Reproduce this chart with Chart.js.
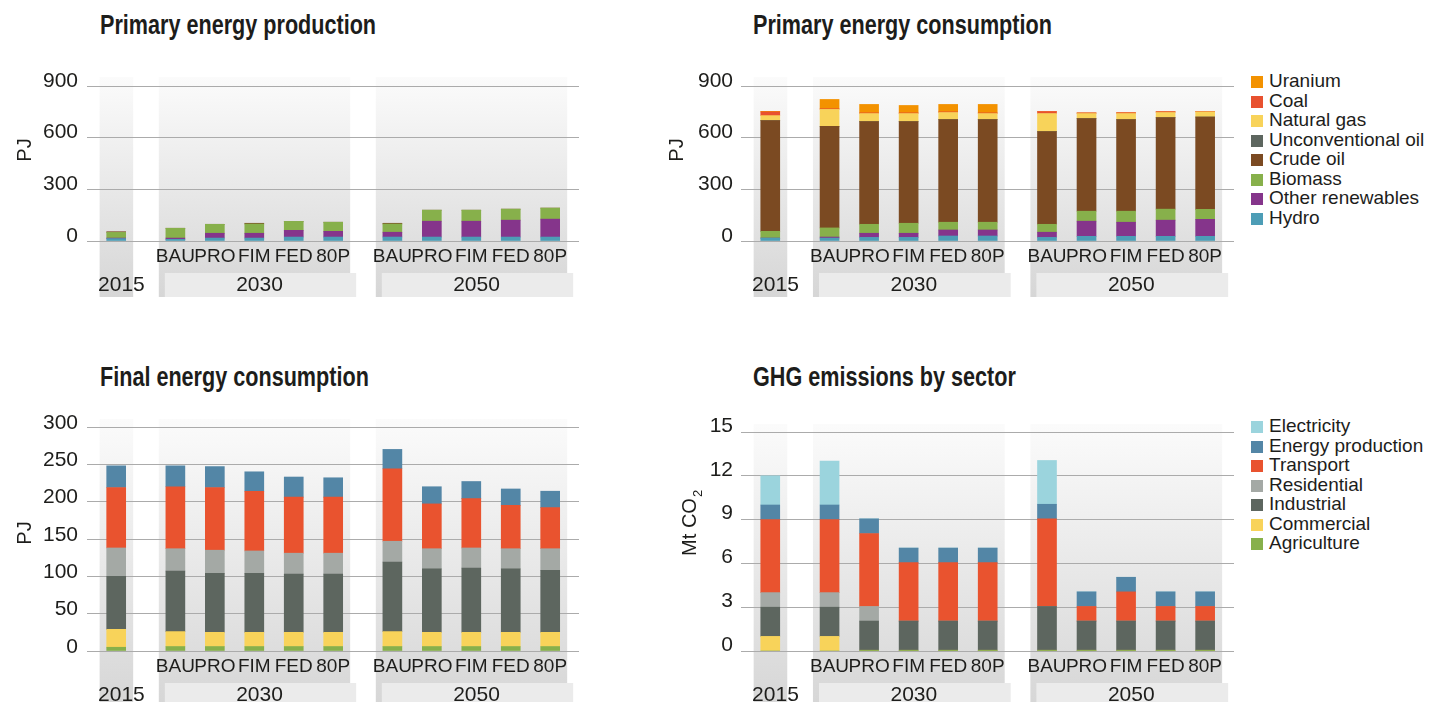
<!DOCTYPE html>
<html>
<head>
<meta charset="utf-8">
<script src="https://cdn.jsdelivr.net/npm/chart.js@4.4.1/dist/chart.umd.min.js"></script>
<style>
  body { margin: 0; background: #fff; width: 1442px; height: 702px; position: relative; overflow: hidden;
         font-family: 'Liberation Sans', Arial, sans-serif; color: #1d1d1b; }
  .title { position: absolute; font-size: 27px; font-weight: bold; line-height: 30px; white-space: nowrap;
           transform: scaleX(0.8); transform-origin: left top; }
  .box { position: absolute; }
  .legend { position: absolute; left: 1251px; font-size: 19px; }
  .legend div { height: 19.5px; line-height: 19.5px; white-space: nowrap; }
  .legend span { display: inline-block; width: 12px; height: 12px; margin-right: 6px; vertical-align: -1px; }
</style>
</head>
<body>

<div class="title" style="left:100px; top:10px">Primary energy production</div>
<div class="title" style="left:753px; top:10px">Primary energy consumption</div>
<div class="title" style="left:100px; top:362px">Final energy consumption</div>
<div class="title" style="left:753px; top:362px">GHG emissions by sector</div>

<div class="box" style="left:0; top:40px; width:640px; height:300px"><canvas id="prod"></canvas></div>
<div class="box" style="left:640px; top:40px; width:600px; height:300px"><canvas id="cons"></canvas></div>
<div class="box" style="left:0; top:395px; width:640px; height:307px"><canvas id="final"></canvas></div>
<div class="box" style="left:640px; top:395px; width:600px; height:307px"><canvas id="ghg"></canvas></div>

<div class="legend" id="legendEnergy" style="top:71px"></div>
<div class="legend" id="legendSector" style="top:416px"></div>

<script>
// categories: 2015, then 5 scenarios for 2030 and for 2050
const years = ['2015', '2030', '2050'];
const scenarios = ['BAU', 'PRO', 'FIM', 'FED', '80P'];

// Primary energy production (PJ)
const prodHydro    = [14, 10, 17, 17, 23, 23, 23, 23, 23, 23, 23];
const prodOtherRen = [3, 7, 28, 28, 39, 33, 28, 92, 92, 98, 104];
const prodBiomass  = [33, 57, 52, 54, 52, 53, 48, 64, 64, 64, 64];
const prodCrude    = [4, 0, 0, 4, 0, 0, 4, 0, 0, 0, 0];

// Primary energy consumption (PJ)
const consHydro    = [17, 17, 21, 21, 29, 29, 21, 27, 27, 27, 27];
const consOtherRen = [0, 6, 24, 24, 35, 35, 30, 88, 82, 94, 99];
const consBiomass  = [39, 53, 52, 58, 45, 45, 46, 58, 64, 64, 58];
const consCrude    = [643, 590, 596, 590, 596, 596, 538, 538, 532, 532, 536];
const consUnconv   = [0, 0, 0, 0, 0, 0, 0, 0, 0, 0, 0];
const consGas      = [29, 98, 47, 47, 41, 35, 105, 29, 35, 29, 30];
const consCoal     = [22, 4, 4, 4, 4, 4, 12, 4, 5, 5, 2];
const consUranium  = [3, 54, 49, 43, 43, 49, 0, 0, 0, 0, 0];

// Final energy consumption (PJ)
const finAgri      = [5, 6, 6, 6, 6, 6, 6, 6, 6, 6, 6];
const finComm      = [24, 20, 19, 19, 19, 19, 20, 19, 19, 19, 19];
const finInd       = [71, 81, 79, 79, 78, 78, 93, 85, 86, 85, 83];
const finRes       = [38, 30, 31, 30, 28, 28, 28, 27, 27, 27, 29];
const finTrans     = [81, 83, 84, 80, 75, 75, 97, 60, 66, 58, 55];
const finEnergy    = [29, 28, 28, 26, 27, 26, 26, 23, 23, 22, 22];

// GHG emissions by sector (Mt CO2)
const ghgAgri      = [0, 0, 0.05, 0.05, 0.05, 0.05, 0.05, 0.05, 0.05, 0.05, 0.05];
const ghgComm      = [1, 1, 0, 0, 0, 0, 0, 0, 0, 0, 0];
const ghgInd       = [2, 2, 2, 2, 2, 2, 3, 2, 2, 2, 2];
const ghgRes       = [1, 1, 1, 0, 0, 0, 0, 0, 0, 0, 0];
const ghgTrans     = [5, 5, 5, 4, 4, 4, 6, 1, 2, 1, 1];
const ghgEnergy    = [1, 1, 1, 1, 1, 1, 1, 1, 1, 1, 1];
const ghgElec      = [2, 3, 0, 0, 0, 0, 3, 0, 0, 0, 0];

const FONT = "'Liberation Sans', Arial, sans-serif";
const C = {
  uranium: '#f39200', coal: '#e8512f', gas: '#f8d35a', unconv: '#5d665f', crude: '#7b4a22',
  biomass: '#87b04b', otherRen: '#85358b', hydro: '#4d9db6',
  elec: '#9bd4dd', energy: '#5386a6', trans: '#e9532f', res: '#a4a9a5', ind: '#5d665f',
  comm: '#f8d35a', agri: '#87b04b'
};

// slot positions on the x axis: one per bar, wider gap between years
const slots = [];
const slotLabels = [];
const groups = [];
let pos = 0;
years.forEach((y, gi) => {
  if (gi > 0) pos += 1.5;
  const scen = y === '2015' ? [''] : scenarios;
  const first = pos;
  scen.forEach((s, si) => {
    if (si > 0) pos += 1;
    slots.push(pos);
    slotLabels.push(s);
  });
  groups.push({ year: y, first: first, last: pos, boxed: scen.length > 1 });
});

const groupPanels = {
  id: 'groupPanels',
  beforeDraw(chart, args, opts) {
    const { ctx, chartArea } = chart;
    const x = chart.scales.x;
    const slot = Math.abs(x.getPixelForValue(1) - x.getPixelForValue(0));
    const top = chartArea.top - opts.above;
    const bottom = chartArea.bottom + 56;
    ctx.save();
    groups.forEach(g => {
      const x0 = x.getPixelForValue(g.first) - 0.42 * slot;
      const x1 = x.getPixelForValue(g.last) + 0.43 * slot;
      const grad = ctx.createLinearGradient(0, top, 0, bottom);
      grad.addColorStop(0, '#fbfbfb');
      grad.addColorStop(1, '#d6d6d6');
      ctx.fillStyle = grad;
      ctx.fillRect(x0, top, x1 - x0, bottom - top);
      if (g.boxed) {
        ctx.fillStyle = '#ebebeb';
        ctx.fillRect(x0 + 6, chartArea.bottom + 32, x1 - x0, bottom - chartArea.bottom - 32);
      }
      ctx.fillStyle = '#1d1d1b';
      ctx.font = '21px ' + FONT;
      ctx.textAlign = 'center';
      ctx.textBaseline = 'middle';
      ctx.fillText(g.year, (x0 + x1) / 2 + 5, chartArea.bottom + 44);
    });
    ctx.restore();
  },
  afterDraw(chart, args, opts) {
    const t = opts.yTitle;
    if (!t) return;
    const ctx = chart.ctx;
    ctx.save();
    ctx.translate(t.x, t.y);
    ctx.rotate(-Math.PI / 2);
    ctx.fillStyle = '#1d1d1b';
    ctx.font = '20px ' + FONT;
    ctx.textBaseline = 'middle';
    const w = ctx.measureText(t.text).width;
    const sw = t.sub ? 8 : 0;
    ctx.textAlign = 'left';
    ctx.fillText(t.text, -(w + sw) / 2, 0);
    if (t.sub) {
      ctx.font = '13px ' + FONT;
      ctx.fillText(t.sub, -(w + sw) / 2 + w + 1, 8);
    }
    ctx.restore();
  }
};

function makeDatasets(list) {
  return list.map(d => ({
    label: d[0],
    data: d[1].map((v, i) => ({ x: slots[i], y: v })),
    backgroundColor: d[2],
    barThickness: 19,
    borderWidth: 0
  }));
}

function makeChart(id, datasets, cfg) {
  return new Chart(document.getElementById(id), {
    type: 'bar',
    data: { datasets: makeDatasets(datasets) },
    plugins: [groupPanels],
    options: {
      responsive: true,
      maintainAspectRatio: false,
      animation: false,
      layout: { padding: { top: cfg.padTop, right: cfg.padRight, left: 0, bottom: 0 } },
      plugins: {
        legend: { display: false },
        tooltip: { enabled: false },
        groupPanels: { above: cfg.above, yTitle: cfg.yTitle }
      },
      scales: {
        x: {
          type: 'linear',
          stacked: true,
          offset: false,
          min: -0.74,
          max: 11.73,
          grid: { display: false, drawTicks: false },
          border: { display: false },
          afterBuildTicks: s => { s.ticks = slots.map(v => ({ value: v })); },
          afterFit: s => { s.height = cfg.xHeight; },
          ticks: {
            autoSkip: false, maxRotation: 0, minRotation: 0, padding: 4,
            color: '#1d1d1b', font: { family: FONT, size: 19 },
            callback: v => slotLabels[slots.indexOf(v)] || ''
          }
        },
        y: {
          stacked: true,
          min: 0,
          max: cfg.yMax,
          grid: { color: '#ababab', lineWidth: 1, drawTicks: false },
          border: { display: false },
          afterFit: s => { s.width = cfg.yWidth; },
          ticks: {
            stepSize: cfg.yStep, padding: cfg.tickPad, labelOffset: cfg.labelOffset,
            color: '#1d1d1b', font: { family: FONT, size: 21 }
          }
        }
      }
    }
  });
}

makeChart('prod', [
  ['Hydro', prodHydro, C.hydro],
  ['Other renewables', prodOtherRen, C.otherRen],
  ['Biomass', prodBiomass, C.biomass],
  ['Crude oil', prodCrude, C.crude]
], { padTop: 46, padRight: 61, yWidth: 87, xHeight: 99, tickPad: 9,
     yMax: 900, yStep: 300, labelOffset: -5, above: 9, yTitle: { text: 'PJ', x: 25, y: 110 } });

const energyList = [
  ['Hydro', consHydro, C.hydro],
  ['Other renewables', consOtherRen, C.otherRen],
  ['Biomass', consBiomass, C.biomass],
  ['Crude oil', consCrude, C.crude],
  ['Unconventional oil', consUnconv, C.unconv],
  ['Natural gas', consGas, C.gas],
  ['Coal', consCoal, C.coal],
  ['Uranium', consUranium, C.uranium]
];
makeChart('cons', energyList,
  { padTop: 46, padRight: 6, yWidth: 101, xHeight: 99, tickPad: 8,
    yMax: 900, yStep: 300, labelOffset: -5, above: 9, yTitle: { text: 'PJ', x: 37, y: 110 } });

makeChart('final', [
  ['Agriculture', finAgri, C.agri],
  ['Commercial', finComm, C.comm],
  ['Industrial', finInd, C.ind],
  ['Residential', finRes, C.res],
  ['Transport', finTrans, C.trans],
  ['Energy production', finEnergy, C.energy]
], { padTop: 32, padRight: 61, yWidth: 87, xHeight: 51, tickPad: 9,
     yMax: 300, yStep: 50, labelOffset: -4, above: 8, yTitle: { text: 'PJ', x: 25, y: 138 } });

const sectorList = [
  ['Agriculture', ghgAgri, C.agri],
  ['Commercial', ghgComm, C.comm],
  ['Industrial', ghgInd, C.ind],
  ['Residential', ghgRes, C.res],
  ['Transport', ghgTrans, C.trans],
  ['Energy production', ghgEnergy, C.energy],
  ['Electricity', ghgElec, C.elec]
];
makeChart('ghg', sectorList,
  { padTop: 37, padRight: 6, yWidth: 101, xHeight: 51, tickPad: 8,
    yMax: 15, yStep: 3, labelOffset: -6, above: 8, yTitle: { text: 'Mt CO', sub: '2', x: 50, y: 128 } });

// legends, top entry = top of stack
function fillLegend(id, list) {
  const el = document.getElementById(id);
  list.slice().reverse().forEach(d => {
    const row = document.createElement('div');
    row.innerHTML = '<span style="background:' + d[2] + '"></span>' + d[0];
    el.appendChild(row);
  });
}
fillLegend('legendEnergy', energyList);
fillLegend('legendSector', sectorList);
</script>
</body>
</html>
